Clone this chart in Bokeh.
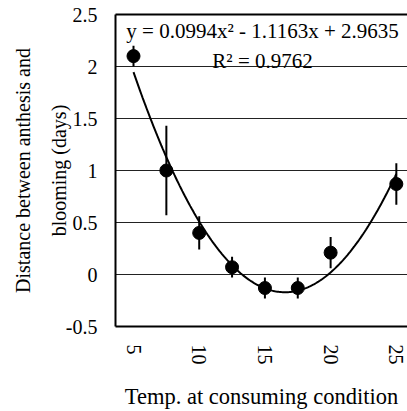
import numpy as np
from bokeh.plotting import figure
from bokeh.models import Range1d, Label, FixedTicker, LinearAxis
from bokeh.embed import file_html
from bokeh.resources import INLINE

# data
temps = [5, 7.5, 10, 12.5, 15, 17.5, 20, 25]
means = [2.1, 1.0, 0.4, 0.07, -0.13, -0.13, 0.21, 0.87]
errors = [0.1, 0.43, 0.16, 0.1, 0.1, 0.1, 0.15, 0.2]
x_ticks = [5, 10, 15, 20, 25]
y_ticks = [-0.5, 0, 0.5, 1, 1.5, 2, 2.5]
grid_ticks = [0, 0.5, 1, 1.5, 2]
coef = [0.0994, -1.1163, 2.9635]   # trendline on category index (1 = 5 degrees, step 2.5)
cat_start, cat_step = 5, 2.5
eq_text = "y = 0.0994x\u00b2 - 1.1163x + 2.9635"
r2_text = "R\u00b2 = 0.9762"
ylabel_lines = ["Distance between anthesis and", "blooming (days)"]
xlabel = "Temp. at consuming condition"

FONT = "Liberation Serif"

p = figure(width=407, height=411, output_backend="svg", toolbar_location=None,
           x_range=Range1d(3.63, 25.85), y_range=Range1d(-0.5, 2.5),
           min_border_left=115, min_border_right=0, min_border_top=14,
           min_border_bottom=84)
p.outline_line_color = None
p.background_fill_color = "white"
p.border_fill_color = "white"

# grid
p.xgrid.visible = False
p.ygrid.ticker = FixedTicker(ticks=grid_ticks)
p.ygrid.grid_line_color = "#222222"
p.ygrid.grid_line_width = 1

# axes
p.xaxis.ticker = FixedTicker(ticks=x_ticks)
p.yaxis.ticker = FixedTicker(ticks=y_ticks)
p.yaxis.major_label_overrides = {t: f"{t:g}" for t in y_ticks}
p.xaxis.major_label_overrides = {t: f"{t:g}" for t in x_ticks}
for ax in (p.xaxis[0], p.yaxis[0]):
    ax.axis_line_color = "black"
    ax.axis_line_width = 2
    ax.major_tick_out = 0
    ax.major_tick_in = 0
    ax.minor_tick_out = 0
    ax.minor_tick_in = 0
    ax.major_label_text_font = FONT
    ax.major_label_text_font_size = "20px"
    ax.major_label_text_color = "black"
    ax.axis_label_text_font = FONT
    ax.axis_label_text_font_style = "normal"
    ax.axis_label_text_color = "black"

p.xaxis.major_label_orientation = "vertical"
p.xaxis.major_label_standoff = 18
p.xaxis.axis_label = xlabel
p.xaxis.axis_label_text_font_size = "22.5px"
p.xaxis.axis_label_standoff = 16

p.yaxis.major_label_standoff = 18
p.yaxis.axis_label = ylabel_lines[1]
p.yaxis.axis_label_text_font_size = "20px"
p.yaxis.axis_label_standoff = -7

# outer left axis carrying the first line of the y title
outer = LinearAxis(ticker=FixedTicker(ticks=[]), major_label_text_font_size="0px",
                   axis_line_color=None, major_tick_out=0, minor_tick_out=0,
                   axis_label=ylabel_lines[0], axis_label_text_font=FONT,
                   axis_label_text_font_size="20px", axis_label_text_font_style="normal",
                   axis_label_text_color="black", axis_label_standoff=11,
                   major_label_standoff=0)
p.add_layout(outer, "left")

top = LinearAxis(ticker=FixedTicker(ticks=[]), major_label_text_font_size="0px",
                 axis_line_color="black", axis_line_width=2,
                 major_tick_out=0, minor_tick_out=0)
p.add_layout(top, "above")

# trendline
xs = np.linspace(temps[0], temps[-1], 200)
idx = (xs - cat_start) / cat_step + 1
ys = coef[0] * idx ** 2 + coef[1] * idx + coef[2]
p.line(xs, ys, line_color="black", line_width=2)

# error bars
lo = [m - e for m, e in zip(means, errors)]
hi = [m + e for m, e in zip(means, errors)]
p.segment(x0=temps, y0=lo, x1=temps, y1=hi, line_color="black", line_width=2)

# points
p.scatter(temps, means, size=13, color="black")

# equation labels
p.add_layout(Label(x=14.82, y=2.345, text=eq_text, text_align="center",
                   text_baseline="alphabetic", text_font=FONT,
                   text_font_size="21px", text_color="black"))
p.add_layout(Label(x=14.82, y=2.05, text=r2_text, text_align="center",
                   text_baseline="alphabetic", text_font=FONT,
                   text_font_size="21px", text_color="black"))

open("out.html", "w").write(file_html(p, INLINE))
